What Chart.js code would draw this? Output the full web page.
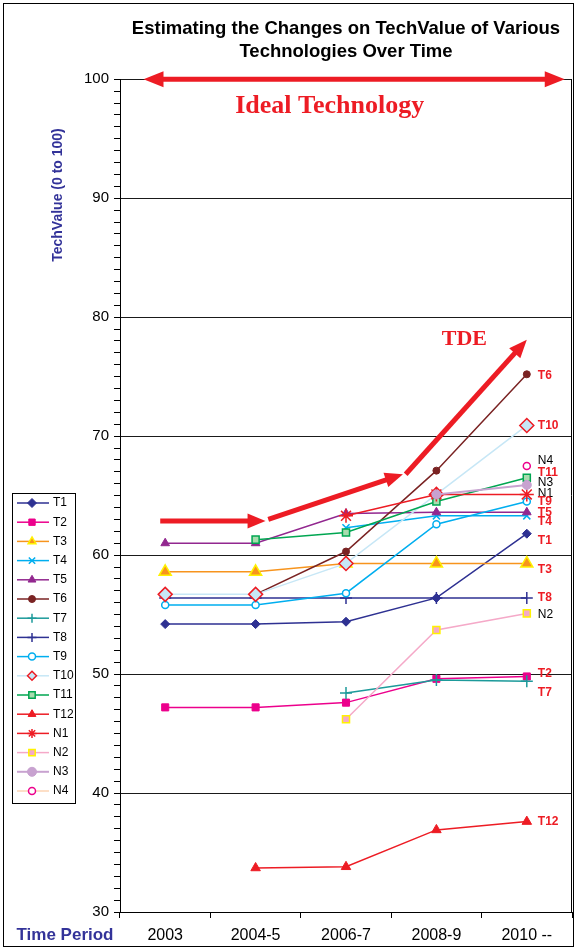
<!DOCTYPE html>
<html>
<head>
<meta charset="utf-8">
<script src="https://cdn.jsdelivr.net/npm/chart.js@4.4.1/dist/chart.umd.min.js"></script>
<style>
  html, body { margin: 0; padding: 0; background: #fff; }
  #wrap { width: 574px; height: 948px; }
</style>
</head>
<body>
<div id="wrap"><canvas id="techChart" width="574" height="948"></canvas></div>
<script>

// categories
const periods = ['2003', '2004-5', '2006-7', '2008-9', '2010 --'];

// TechValue per period (null = not rated yet)
const T1  = [54.2, 54.2, 54.4, 56.4, 61.8];
const T2  = [47.2, 47.2, 47.6, 49.6, 49.8];
const T3  = [58.6, 58.6, 59.3, 59.3, 59.3];
const T4  = [null, null, 62.3, 63.3, 63.3];
const T5  = [61.0, 61.0, 63.5, 63.6, 63.6];
const T6  = [null, 56.7, 60.3, 67.1, 75.2];
const T7  = [null, null, 48.4, 49.5, 49.4];
const T8  = [56.4, 56.4, 56.4, 56.4, 56.4];
const T9  = [55.8, 55.8, 56.8, 62.6, 64.5];
const T10 = [56.7, 56.7, 59.3, 65.1, 70.9];
const T11 = [null, 61.3, 61.9, 64.5, 66.5];
const T12 = [null, 33.7, 33.8, 36.9, 37.6];
const N1  = [null, null, 63.3, 65.1, 65.1];
const N2  = [null, null, 46.2, 53.7, 55.1];
const N3  = [null, null, null, 65.1, 65.9];
const N4  = [null, null, null, null, 67.5];

const seriesNames = ['T1','T2','T3','T4','T5','T6','T7','T8','T9','T10','T11','T12','N1','N2','N3','N4'];
const seriesData  = [T1, T2, T3, T4, T5, T6, T7, T8, T9, T10, T11, T12, N1, N2, N3, N4];

// tags at the end of the lines (value the tag sits at)
const tagNames  = ['T6','T10','N4','T11','N3','N1','T9','T5','T4','T1','T3','T8','N2','T2','T7','T12'];
const tagValues = [75.1, 70.9, 67.9, 66.9, 66.1, 65.2, 64.45, 63.6, 62.8, 61.2, 58.75, 56.4, 55.0, 50.0, 48.4, 37.6];

// y axis ticks
const yMin = 30, yMax = 100, yMajor = 10;


const RED = '#ed1c24';
const FONT = "'Liberation Sans', Arial, sans-serif";
const SERIF = "'Liberation Serif', 'Times New Roman', serif";

const looks = {
  T1:  { line: '#2e3192', point: 'rectRot',  r: 4.5, fill: '#2e3192', edge: '#2e3192', bw: 1 },
  T2:  { line: '#ec008c', point: 'rect',     r: 5,   fill: '#ec008c', edge: '#ec008c', bw: 1 },
  T3:  { line: '#f7941d', point: 'triangle', r: 7,   fill: '#f7941d', edge: '#fff200', bw: 1.5 },
  T4:  { line: '#00aeef', point: 'crossRot', r: 5,   fill: '#00aeef', edge: '#00aeef', bw: 1.5 },
  T5:  { line: '#92278f', point: 'triangle', r: 5,   fill: '#92278f', edge: '#92278f', bw: 1 },
  T6:  { line: '#7a2323', point: 'circle',   r: 3.5, fill: '#7a2323', edge: '#7a2323', bw: 1 },
  T7:  { line: '#1c9a9a', point: 'cross',    r: 6,   fill: '#1c9a9a', edge: '#1c9a9a', bw: 1.5 },
  T8:  { line: '#2e3192', point: 'cross',    r: 6,   fill: '#2e3192', edge: '#2e3192', bw: 1.5 },
  T9:  { line: '#00aeef', point: 'circle',   r: 3.5, fill: '#ffffff', edge: '#00aeef', bw: 1.5 },
  T10: { line: '#c7e7f6', point: 'rectRot',  r: 7,   fill: '#c7e7f6', edge: RED,       bw: 1.5 },
  T11: { line: '#00a651', point: 'rect',     r: 5,   fill: '#a8dcae', edge: '#00a651', bw: 1.5 },
  T12: { line: RED,       point: 'triangle', r: 5.5, fill: RED,       edge: RED,       bw: 1 },
  N1:  { line: RED,       point: 'star',     r: 7,   fill: RED,       edge: RED,       bw: 1.5 },
  N2:  { line: '#f5a9c8', point: 'rect',     r: 5,   fill: '#f5a9c8', edge: '#fff200', bw: 1.5 },
  N3:  { line: '#c8a2d0', point: 'circle',   r: 4.5, fill: '#c8a2d0', edge: '#c8a2d0', bw: 1 },
  N4:  { line: '#fcd5b4', point: 'circle',   r: 3.5, fill: '#ffffff', edge: '#ec008c', bw: 1.5 }
};

let dsets = seriesNames.map((name, i) => {
  const lk = looks[name];
  return {
    label: name,
    data: seriesData[i],
    borderColor: lk.line,
    borderWidth: name === 'N3' ? 2 : 1.5,
    backgroundColor: lk.fill,
    pointStyle: lk.point,
    pointRadius: lk.r,
    pointHoverRadius: lk.r,
    pointBackgroundColor: lk.fill,
    pointBorderColor: lk.edge,
    pointBorderWidth: lk.bw,
    tension: 0,
    fill: false,
    order: 100 - i   // later series on top, like the original
  }
});


function arrow(ctx, x1, y1, x2, y2, w, headLen, headW, both){
  const a = Math.atan2(y2 - y1, x2 - x1);
  const cx = Math.cos(a), sy = Math.sin(a);
  const sx = both ? x1 + cx * headLen * 0.9 : x1, syy = both ? y1 + sy * headLen * 0.9 : y1;
  ctx.lineWidth = w;
  ctx.beginPath();
  ctx.moveTo(sx, syy);
  ctx.lineTo(x2 - cx * headLen * 0.9, y2 - sy * headLen * 0.9);
  ctx.stroke();
  const head = (tx, ty, dir) => {
    const bx = tx - Math.cos(dir) * headLen, by = ty - Math.sin(dir) * headLen;
    ctx.beginPath();
    ctx.moveTo(tx, ty);
    ctx.lineTo(bx + Math.sin(dir) * headW / 2, by - Math.cos(dir) * headW / 2);
    ctx.lineTo(bx - Math.sin(dir) * headW / 2, by + Math.cos(dir) * headW / 2);
    ctx.closePath();
    ctx.fill();
  };
  head(x2, y2, a);
  if (both) head(x1, y1, a + Math.PI);
}


const extras = {
  id: 'extras',
  beforeDatasetsDraw(chart){
    const {ctx, chartArea} = chart;
    ctx.save();
    ctx.strokeStyle = '#000';
    ctx.lineWidth = 1;
    ctx.beginPath();
    ctx.moveTo(Math.round(chartArea.right) - 0.5, chartArea.top);
    ctx.lineTo(Math.round(chartArea.right) - 0.5, chartArea.bottom);
    ctx.stroke();
    ctx.restore();
  },
  afterDatasetsDraw(chart){
    const ctx = chart.ctx;
    const xs = chart.scales.x, ys = chart.scales.y;
    const px = v => xs.getPixelForValue(v), py = v => ys.getPixelForValue(v);
    ctx.save();
    ctx.strokeStyle = RED;
    ctx.fillStyle = RED;
    ctx.lineCap = 'butt';

    // ideal technology band
    arrow(ctx, px(-0.24), py(100), px(4.42), py(100), 5, 20, 16, true);
    ctx.font = 'bold 26px ' + SERIF;
    ctx.textAlign = 'center';
    ctx.textBaseline = 'middle';
    ctx.fillText('Ideal Technology', px(1.82), py(97.7));

    // TDE path
    arrow(ctx, px(-0.055), py(62.86), px(1.11), py(62.86), 5, 18, 15, false);
    arrow(ctx, px(1.14), py(63.0), px(2.63), py(66.8), 5, 18, 15, false);
    arrow(ctx, px(2.66), py(66.8), px(4.0), py(78.1), 5, 18, 15, false);
    ctx.font = 'bold 22px ' + SERIF;
    ctx.fillText('TDE', px(3.31), py(78.1));

    // end tags
    ctx.textAlign = 'left';
    tagNames.forEach((nm, i) => {
      const isN = nm[0] === 'N';
      ctx.fillStyle = isN ? '#000' : RED;
      ctx.font = (isN ? '' : 'bold ') + '12px ' + FONT;
      ctx.fillText(nm, px(4) + 11, py(tagValues[i]));
    });
    ctx.restore();
  },
  afterDraw(chart){
    const ctx = chart.ctx;
    ctx.save();

    // axis captions
    ctx.fillStyle = '#333399';
    ctx.font = 'bold 17px ' + FONT;
    ctx.textAlign = 'center';
    ctx.textBaseline = 'middle';
    ctx.fillText('Time Period', 65, 935);
    ctx.translate(58, 195);
    ctx.rotate(-Math.PI / 2);
    ctx.font = 'bold 14px ' + FONT;
    ctx.fillText('TechValue (0 to 100)', 0, 0);
    ctx.setTransform(1, 0, 0, 1, 0, 0);

    // legend box
    const x0 = 12, y0 = 493, w = 63, h = 310, rowH = 19.2;
    ctx.fillStyle = '#fff';
    ctx.fillRect(x0, y0, w, h);
    ctx.strokeStyle = '#000';
    ctx.lineWidth = 1;
    ctx.strokeRect(x0 + 0.5, y0 + 0.5, w, h);
    ctx.textAlign = 'left';
    ctx.font = '12px ' + FONT;
    chart.data.datasets.forEach((ds, i) => {
      const y = y0 + 10 + i * rowH;
      ctx.strokeStyle = ds.borderColor;
      ctx.lineWidth = ds.borderWidth;
      ctx.beginPath();
      ctx.moveTo(x0 + 5, y);
      ctx.lineTo(x0 + 37, y);
      ctx.stroke();
      ctx.fillStyle = ds.pointBackgroundColor;
      ctx.strokeStyle = ds.pointBorderColor;
      ctx.lineWidth = ds.pointBorderWidth;
      Chart.helpers.drawPoint(ctx, {
        pointStyle: ds.pointStyle,
        radius: Math.min(ds.pointRadius, 4.5),
        borderWidth: ds.pointBorderWidth,
        rotation: 0
      }, x0 + 20, y);
      ctx.fillStyle = '#000';
      ctx.fillText(ds.label, x0 + 41, y);
    });

    // outer frame
    ctx.strokeStyle = '#000';
    ctx.lineWidth = 1;
    ctx.strokeRect(3.5, 3.5, 570, 943);
    ctx.restore();
  }
};


Chart.defaults.font.family = FONT;
Chart.defaults.color = '#000';

new Chart(
  document.getElementById('techChart'),
  {
    type: 'line',
    data: {
      labels: periods,
      datasets: dsets
    },
    options: {
      responsive: false,
      animation: false,
      devicePixelRatio: 1,
      spanGaps: false,
      layout: {
        autoPadding: false,
        padding: { left: 0, right: 2, top: 0, bottom: 0 }
      },
      plugins: {
        legend: { display: false },
        tooltip: { enabled: false },
        title: {
          display: true,
          fullSize: false,
          text: ['Estimating the Changes on TechValue of Various', 'Technologies Over Time'],
          color: '#000',
          font: { size: 18.5, weight: 'bold', lineHeight: 1.25 },
          padding: { top: 17, bottom: 16 }
        }
      },
      scales: {
        x: {
          type: 'category',
          offset: true,
          afterFit: s => { s.height = 36; },
          grid: {
            display: true,
            drawOnChartArea: false,
            offset: true,
            tickLength: 6,
            color: '#000'
          },
          border: { display: true, color: '#000', width: 1 },
          ticks: {
            font: { size: 16 },
            color: '#000',
            padding: 8,
            maxRotation: 0
          }
        },
        y: {
          type: 'linear',
          min: yMin,
          max: yMax,
          afterFit: s => { s.width = 120; },
          grid: {
            color: c => (c.tick && c.tick.value % yMajor === 0) ? '#1a1a1a' : 'rgba(0,0,0,0)',
            tickColor: '#000',
            tickLength: 6,
            lineWidth: 1
          },
          border: { display: true, color: '#000', width: 1 },
          ticks: {
            stepSize: 1,
            autoSkip: false,
            font: { size: 15 },
            color: '#000',
            padding: 5,
            callback: v => (v % yMajor === 0 ? v : '')
          }
        }
      }
    },
    plugins: [extras]
  }
);

</script>
</body>
</html>
